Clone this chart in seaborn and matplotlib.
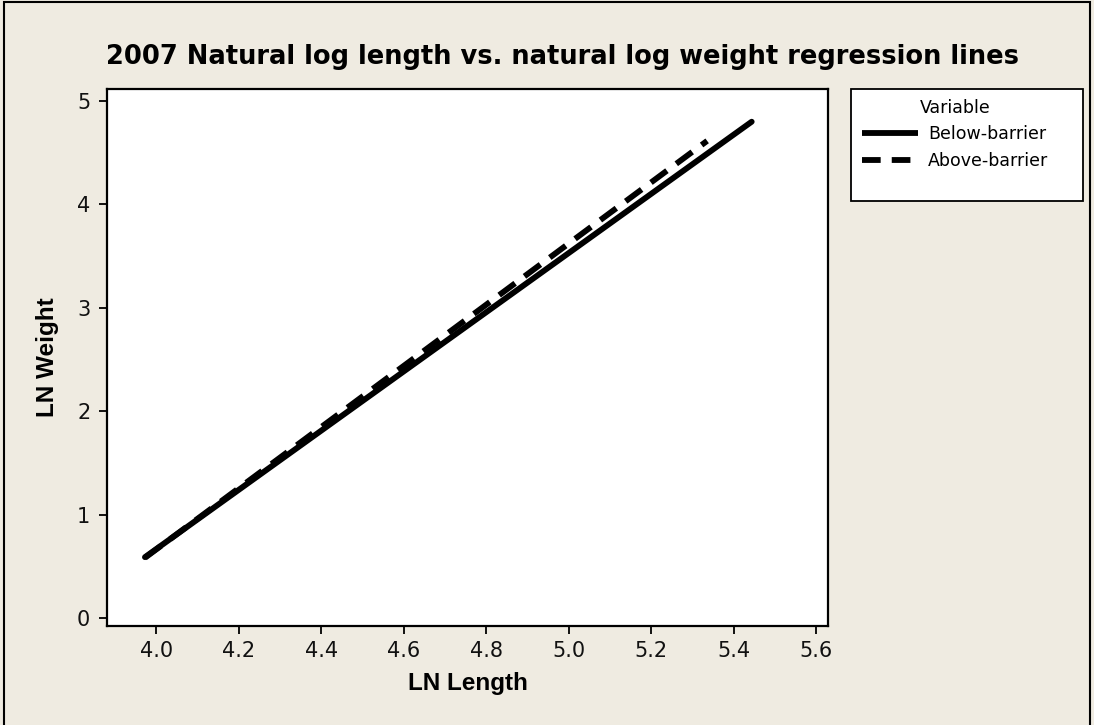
import matplotlib
matplotlib.use("Agg")
import matplotlib.pyplot as plt
from matplotlib.lines import Line2D
from matplotlib.patches import Rectangle
import seaborn as sns
import pandas as pd

# ---- data ----
series_names = ["Below-barrier", "Above-barrier"]
length_below = [3.973, 5.444]
weight_below = [0.591, 4.797]
length_above = [3.973, 5.336]
weight_above = [0.585, 4.612]
x_ticks = [4.0, 4.2, 4.4, 4.6, 4.8, 5.0, 5.2, 5.4, 5.6]
y_ticks = [0, 1, 2, 3, 4, 5]
title = "2007 Natural log length vs. natural log weight regression lines"
x_label = "LN Length"
y_label = "LN Weight"
legend_title = "Variable"

df = pd.DataFrame({
    "LN Length": length_below + length_above,
    "LN Weight": weight_below + weight_above,
    "Variable": [series_names[0]] * len(length_below) + [series_names[1]] * len(length_above),
})

sns.set_style("white")
plt.rcParams["font.family"] = ["DejaVu Sans"]
plt.rcParams["text.color"] = "black"

W, H = 1094, 725
bg = "#EFEBE1"
fig = plt.figure(figsize=(W / 100, H / 100), dpi=100, facecolor=bg)
ax = fig.add_axes([107 / W, 1 - 626 / H, (828 - 107) / W, (626 - 89) / H])
ax.set_facecolor("white")

lw = 4.2
dash = (3.4, 2.0)
sns.lineplot(
    data=df, x="LN Length", y="LN Weight", hue="Variable", style="Variable",
    hue_order=series_names, style_order=series_names,
    palette={series_names[0]: "black", series_names[1]: "black"},
    dashes={series_names[0]: "", series_names[1]: dash},
    linewidth=lw, legend=False, ax=ax, estimator=None, sort=False,
)
for i, ln in enumerate(ax.lines):
    ln.set_solid_capstyle("round")
    ln.set_dash_capstyle("butt")
    ln.set_zorder(3 if i == 0 else 2)

ax.set_xlim(3.881, 5.629)
ax.set_ylim(-0.074, 5.113)
ax.set_xticks(x_ticks)
ax.set_xticklabels([f"{v:.1f}" for v in x_ticks])
ax.set_yticks(y_ticks)
ax.set_yticklabels([str(v) for v in y_ticks])
ax.tick_params(axis="both", direction="out", length=6, width=1.3, color="black",
               labelsize=15, labelcolor="#111111", pad=5, bottom=True, left=True)
ax.tick_params(axis="y", pad=6)
for s in ax.spines.values():
    s.set_visible(True)
    s.set_color("black")
    s.set_linewidth(1.6)

lab_font = dict(fontsize=17.5, fontweight="bold", family="Liberation Sans", color="black")
ax.set_xlabel(x_label, **lab_font)
ax.set_ylabel(y_label, **lab_font)
ax.xaxis.set_label_coords(0.5, -0.086)
ax.yaxis.set_label_coords(-0.066, 0.5)

fig.text(563 / W, 1 - 64 / H, title, ha="center", va="baseline",
         fontsize=18.5, fontweight="bold", color="black")

# legend box
fig.patches.append(Rectangle((851 / W, 1 - 201 / H), (1083 - 851) / W, (201 - 89) / H,
                             transform=fig.transFigure, facecolor="white",
                             edgecolor="black", linewidth=1.3, zorder=-1))
handles = [
    Line2D([], [], color="black", linewidth=4.2, solid_capstyle="butt"),
    Line2D([], [], color="black", linewidth=4.2, linestyle=(0, (3.2, 1.9)), dash_capstyle="butt"),
]
leg = ax.legend(handles, series_names, title=legend_title, frameon=False,
                loc="upper left", bbox_to_anchor=(862 / W, 1 - 99 / H),
                bbox_transform=fig.transFigure, fontsize=12.5, title_fontsize=12.5,
                handlelength=3.2, handletextpad=0.6, borderpad=0, borderaxespad=0,
                labelspacing=0.5)
leg._legend_box.sep = 6
for t in leg.get_texts():
    t.set_color("black")

# figure border
fig.patches.append(Rectangle((4 / W, -0.05), (1090 - 4) / W, 1.05 - 2.5 / H,
                             transform=fig.transFigure, facecolor="none",
                             edgecolor="black", linewidth=1.5, zorder=-1))

fig.savefig("out.png", dpi=100, facecolor=bg)
